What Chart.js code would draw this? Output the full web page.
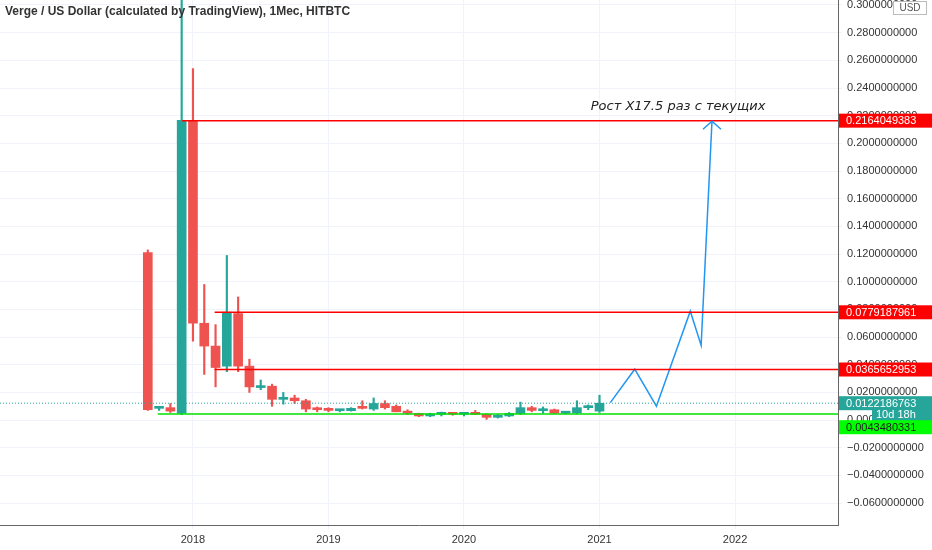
<!DOCTYPE html>
<html>
<head>
<meta charset="utf-8">
<script src="https://cdn.jsdelivr.net/npm/chart.js@4"></script>
<style>
  body { margin: 0; background: #fff; }
  #wrap { width: 932px; height: 550px; position: relative; }
</style>
</head>
<body>
<div id="wrap"><canvas id="myChart"></canvas></div>
<script>
// monthly candles, Verge / USD
const months = ['2017-09','2017-10','2017-11','2017-12','2018-01','2018-02','2018-03','2018-04','2018-05','2018-06',
  '2018-07','2018-08','2018-09','2018-10','2018-11','2018-12','2019-01','2019-02','2019-03','2019-04',
  '2019-05','2019-06','2019-07','2019-08','2019-09','2019-10','2019-11','2019-12','2020-01','2020-02',
  '2020-03','2020-04','2020-05','2020-06','2020-07','2020-08','2020-09','2020-10','2020-11','2020-12','2021-01'];
const open  = [0.121,0.0085,0.009,0.005,0.2166,0.070,0.0535,0.039,0.077,0.039,
  0.0235,0.0245,0.015,0.016,0.014,0.008,0.0085,0.0068,0.0068,0.009,
  0.008,0.012,0.010,0.0065,0.0048,0.003,0.0042,0.0046,0.0042,0.0046,
  0.0042,0.002,0.003,0.0048,0.009,0.0068,0.0075,0.005,0.0052,0.009,0.0065];
const high  = [0.123,0.010,0.012,0.31,0.254,0.098,0.069,0.119,0.089,0.044,
  0.029,0.026,0.020,0.018,0.015,0.0095,0.009,0.0075,0.009,0.014,
  0.016,0.014,0.011,0.0075,0.005,0.005,0.0058,0.0055,0.005,0.007,
  0.0045,0.004,0.0055,0.013,0.010,0.0095,0.008,0.0058,0.014,0.011,0.018];
const low   = [0.007,0.007,0.0055,0.004,0.057,0.033,0.024,0.035,0.035,0.020,
  0.022,0.010,0.0115,0.012,0.006,0.006,0.006,0.006,0.0065,0.008,
  0.007,0.008,0.006,0.004,0.0025,0.0025,0.003,0.0035,0.003,0.004,
  0.0005,0.0015,0.0025,0.004,0.006,0.005,0.0048,0.0045,0.0045,0.0075,0.0055];
const close = [0.0075,0.009,0.0065,0.2166,0.070,0.0535,0.038,0.078,0.039,0.024,
  0.0245,0.015,0.016,0.014,0.008,0.0075,0.007,0.0072,0.0085,0.0085,
  0.012,0.009,0.006,0.005,0.003,0.0045,0.0046,0.0042,0.0046,0.0042,
  0.002,0.0032,0.0048,0.009,0.007,0.0075,0.005,0.0052,0.009,0.0095,0.0122];

// drawn levels and projection
const levels = [0.2164049383, 0.0779187961, 0.0365652953];
const levelStart = [2017.92, 2018.16, 2018.16];
const lastPrice = 0.0122186763;
const supportLevel = 0.0043480331;
const projX = [2021.08, 2021.26, 2021.42, 2021.67, 2021.75, 2021.83];
const projY = [0.0126, 0.0368, 0.0101, 0.0787, 0.054, 0.216];
const yearTicks = [2018, 2019, 2020, 2021, 2022];
const priceTicks = [-0.06, -0.04, -0.02, 0, 0.02, 0.04, 0.06, 0.08, 0.10, 0.12, 0.14,
  0.16, 0.18, 0.20, 0.22, 0.24, 0.26, 0.28, 0.30];

const RED = '#ef5350', TEAL = '#26a69a';

function monthToX(m) {
    const p = m.split('-');
    return Number(p[0]) + (Number(p[1]) - 1) / 12;
}
const xs = months.map(monthToX);
const colors = months.map((m, i) => close[i] >= open[i] ? TEAL : RED);

const X_MIN = 2016.576, X_MAX = 2022.76;

function fmt(v) {
    if (Math.abs(v) < 1e-9) return '0.0000000000';
    return (v < 0 ? '\u2212' : '') + Math.abs(v).toFixed(10);
}

// price labels, boxes on the right axis, text + arrowhead
const overlay = {
    id: 'overlay',
    afterDraw(chart) {
        const c = chart.ctx, y = chart.scales.y, x = chart.scales.x;
        const area = chart.chartArea;
        const left = area.right + 1;
        c.save();
        c.textBaseline = 'middle';

        // price tick labels
        c.font = '11px "Liberation Sans", Arial';
        c.fillStyle = '#333';
        c.textAlign = 'left';
        priceTicks.forEach(v => c.fillText(fmt(v), left + 8, y.getPixelForValue(v)));

        // title
        c.font = 'bold 12px "Liberation Sans", Arial';
        c.fillStyle = '#333';
        c.fillText('Verge / US Dollar (calculated by TradingView), 1Мес, HITBTC', 5, 12);

        // annotation text
        c.font = 'italic 13px "DejaVu Sans", sans-serif';
        c.textAlign = 'center';
        c.fillStyle = '#222';
        c.fillText('Рост X17.5 раз с текущих', x.getPixelForValue(2021.58), y.getPixelForValue(0.2266));

        // arrowhead
        const n = projX.length - 1;
        const ax = x.getPixelForValue(projX[n]), ay = y.getPixelForValue(projY[n]);
        c.strokeStyle = '#2196f3';
        c.lineWidth = 1.5;
        c.beginPath();
        c.moveTo(ax - 9, ay + 8); c.lineTo(ax, ay); c.lineTo(ax + 9, ay + 8);
        c.stroke();

        function box(py, bg, fg, text) {
            c.fillStyle = bg;
            c.fillRect(left, py - 7, 932 - left, 14);
            c.fillStyle = fg;
            c.font = '11px "Liberation Sans", Arial';
            c.textAlign = 'left';
            c.fillText(text, left + 7, py + 0.5);
        }
        levels.forEach(v => box(y.getPixelForValue(v), '#ff0000', '#fff', v.toFixed(10)));
        const lp = y.getPixelForValue(lastPrice);
        box(lp, TEAL, '#fff', lastPrice.toFixed(10));
        // countdown box
        c.fillStyle = TEAL;
        c.fillRect(872, lp + 5, 60, 13);
        c.fillStyle = '#fff';
        c.fillText('10d 18h', 876, lp + 12);
        box(lp + 24, '#00ff00', '#222', supportLevel.toFixed(10));

        // USD
        c.fillStyle = '#fff';
        c.fillRect(893, 1, 34, 14);
        c.strokeStyle = '#bbb';
        c.lineWidth = 1;
        c.strokeRect(893.5, 1.5, 33, 13);
        c.fillStyle = '#555';
        c.font = '10px "Liberation Sans", Arial';
        c.textAlign = 'center';
        c.fillText('USD', 910, 8);
        c.restore();
    }
};

function createChart() {
    const ctx = document.getElementById('myChart').getContext('2d');
    const datasets = [];

    datasets.push({
        type: 'line', label: 'last',
        data: [{x: X_MIN, y: lastPrice}, {x: X_MAX, y: lastPrice}],
        borderColor: TEAL, borderWidth: 1, borderDash: [1, 2], pointRadius: 0
    });
    levels.forEach((v, i) => datasets.push({
        type: 'line', label: 'lvl' + i,
        data: [{x: levelStart[i], y: v}, {x: X_MAX, y: v}],
        borderColor: '#ff0000', borderWidth: 1.5, pointRadius: 0
    }));
    datasets.push({
        type: 'line', label: 'support',
        data: [{x: 2017.74, y: supportLevel}, {x: X_MAX, y: supportLevel}],
        borderColor: '#00e000', borderWidth: 1.5, pointRadius: 0
    });
    datasets.push({
        type: 'bar', label: 'wicks',
        data: xs.map((x, i) => ({x: x, y: [low[i], high[i]]})),
        backgroundColor: colors, barThickness: 1.5, grouped: false
    });
    datasets.push({
        type: 'bar', label: 'bodies',
        data: xs.map((x, i) => ({x: x, y: [open[i], close[i]]})),
        backgroundColor: colors, barThickness: 9, grouped: false, minBarLength: 2
    });
    datasets.push({
        type: 'line', label: 'projection',
        data: projX.map((x, i) => ({x: x, y: projY[i]})),
        borderColor: '#2196f3', borderWidth: 1.5, pointRadius: 0, tension: 0
    });

    new Chart(ctx, {
        data: { datasets: datasets },
        options: {
            responsive: true,
            maintainAspectRatio: false,
            animation: false,
            layout: { padding: 0 },
            plugins: { legend: { display: false }, tooltip: { enabled: false } },
            scales: {
                x: {
                    type: 'linear', min: X_MIN, max: X_MAX, offset: false,
                    afterBuildTicks: s => { s.ticks = yearTicks.map(v => ({value: v})); },
                    afterFit: s => { s.height = 25; },
                    ticks: { color: '#333', font: { size: 11, family: 'Liberation Sans' }, callback: v => String(v), maxRotation: 0, padding: 4 },
                    grid: { color: '#f0f3fa', offset: false, drawTicks: true, tickLength: 4 },
                    border: { color: '#666' }
                },
                y: {
                    position: 'right', min: -0.0758, max: 0.3036,
                    afterBuildTicks: s => { s.ticks = priceTicks.map(v => ({value: v})); },
                    afterFit: s => { s.width = 94; },
                    ticks: { display: false },
                    grid: { color: '#f0f3fa', tickLength: 4 },
                    border: { color: '#666' }
                }
            }
        },
        plugins: [overlay]
    });
}

window.onload = function () {
    createChart();
};
</script>
</body>
</html>
